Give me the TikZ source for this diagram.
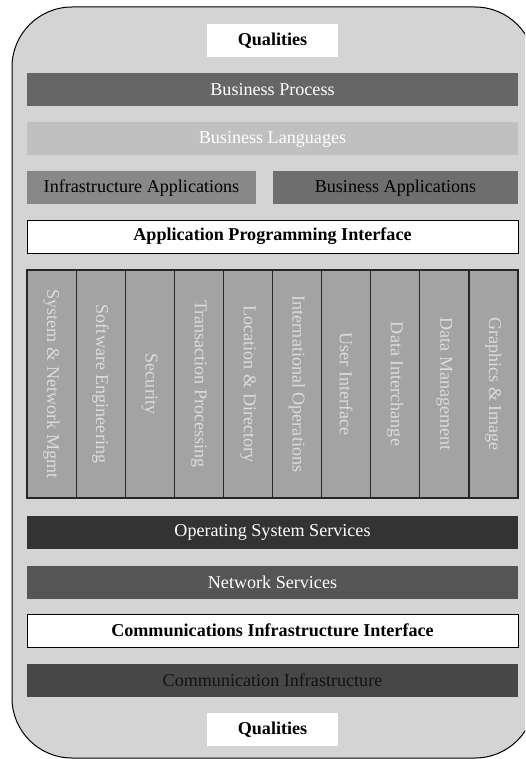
\documentclass[tikz,border=0pt]{standalone}
\usepackage{fontspec}
\setmainfont{Liberation Serif}
\definecolor{frame}{HTML}{D4D4D4}
\definecolor{procfill}{HTML}{666666}
\definecolor{langfill}{HTML}{C0C0C0}
\definecolor{infrafill}{HTML}{888888}
\definecolor{bizfill}{HTML}{6E6E6E}
\definecolor{colfill}{HTML}{A3A3A3}
\definecolor{coltext}{HTML}{DCDCDC}
\definecolor{osfill}{HTML}{333333}
\definecolor{netfill}{HTML}{555555}
\definecolor{commfill}{HTML}{474747}
\definecolor{commtext}{HTML}{121212}
\begin{document}
\begin{tikzpicture}[x=1pt,y=-1pt,
  txt/.style={inner sep=0pt, outer sep=0pt, font=\fontsize{18.1}{20}\selectfont},
  layer/.style={txt, minimum width=491pt, minimum height=33pt},
  half/.style={txt, minimum height=33pt},
  quality/.style={txt, fill=white, minimum width=131pt, minimum height=33pt, font=\fontsize{18.1}{20}\selectfont\bfseries},
  iface/.style={layer, fill=white, draw=black, line width=1pt, font=\fontsize{18.1}{20}\selectfont\bfseries},
  service/.style={txt, rotate=-90, minimum width=228pt, minimum height=49.1pt,
    fill=colfill, draw=black!85, line width=1.2pt, text=coltext}
]
\useasboundingbox (0,0) rectangle (525,759);
\clip (0,0) rectangle (525,759);

% rounded outer frame
\draw[fill=frame, line width=1pt, rounded corners=60pt] (12,7) rectangle (535,758);

% upper layers
\node[quality] (qtop) at (272.5,40.5) {Qualities};
\node[layer, fill=procfill, text=white] (bproc) at (272.5,89.5) {Business Process};
\node[layer, fill=langfill, text=white] (blang) at (272.5,139) {Business Languages};
\node[half, fill=infrafill, minimum width=229pt] (infapp) at (141.5,188) {Infrastructure Applications};
\node[half, fill=bizfill, minimum width=245pt] (bizapp) at (395.5,188) {Business Applications};
\node[iface] (api) at (272.5,236.5) {Application Programming Interface};

% vertical service columns
\foreach \i/\name in {0/System \& Network Mgmt, 1/Software Engineering, 2/Security,
  3/Transaction Processing, 4/Location \& Directory, 5/International Operations,
  6/User Interface, 7/Data Interchange, 8/Data Management, 9/Graphics \& Image}
  \node[service] (col\i) at ({27+49.1*\i+24.55},384) {\name};

% lower layers
\node[layer, fill=osfill, text=white] (os) at (272.5,532.5) {Operating System Services};
\node[layer, fill=netfill, text=white] (net) at (272.5,582) {Network Services};
\node[iface] (cii) at (272.5,630.5) {Communications Infrastructure Interface};
\node[layer, fill=commfill, text=commtext] (comm) at (272.5,680.5) {Communication Infrastructure};
\node[quality] (qbot) at (272.5,729.5) {Qualities};
\end{tikzpicture}
\end{document}
